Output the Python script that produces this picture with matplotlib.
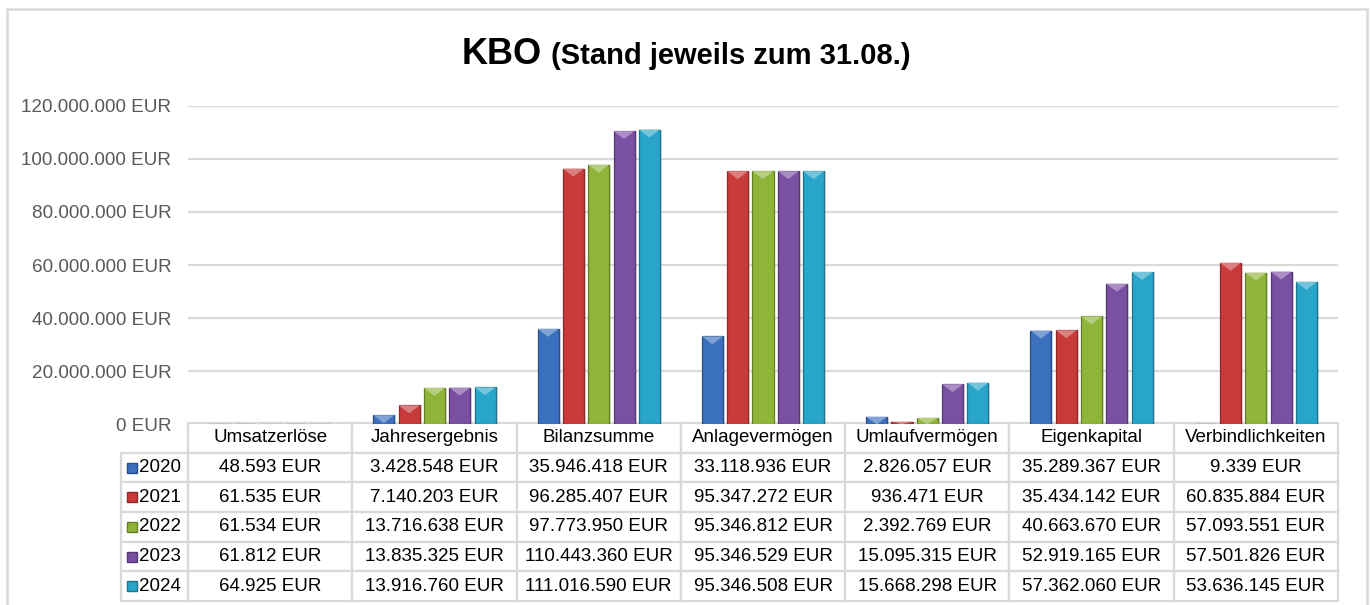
import matplotlib
matplotlib.use('Agg')
import matplotlib.pyplot as plt
from matplotlib.patches import Rectangle
from matplotlib.ticker import FuncFormatter
import matplotlib.colors as mcolors

plt.rcParams['font.family'] = ['Liberation Sans', 'DejaVu Sans']

# data
categories = ['Umsatzerlöse', 'Jahresergebnis', 'Bilanzsumme', 'Anlagevermögen',
              'Umlaufvermögen', 'Eigenkapital', 'Verbindlichkeiten']
years = ['2020', '2021', '2022', '2023', '2024']
v2020 = [48593, 3428548, 35946418, 33118936, 2826057, 35289367, 9339]
v2021 = [61535, 7140203, 96285407, 95347272, 936471, 35434142, 60835884]
v2022 = [61534, 13716638, 97773950, 95346812, 2392769, 40663670, 57093551]
v2023 = [61812, 13835325, 110443360, 95346529, 15095315, 52919165, 57501826]
v2024 = [64925, 13916760, 111016590, 95346508, 15668298, 57362060, 53636145]
series = [v2020, v2021, v2022, v2023, v2024]
colors = ['#3b70bf', '#c93a3a', '#8fb43a', '#7a50a2', '#29a5c9']

def eur(v, pos=None):
    return f"{int(v):,}".replace(',', '.') + ' EUR'

W, H = 1370, 605
fig = plt.figure(figsize=(W / 100, H / 100), dpi=100)

# axes placement (pixels)
ax_l, ax_r, ax_t, ax_b = 188, 1338, 105.7, 424.3
ax = fig.add_axes([ax_l / W, 1 - ax_b / H, (ax_r - ax_l) / W, (ax_b - ax_t) / H])

# outer frame
fig.patches.append(Rectangle((7 / W, -0.01), (1367 - 7) / W, 1.01 - 9 / H,
                             transform=fig.transFigure, fill=False,
                             edgecolor='#d9d9d9', linewidth=1.8))

ymax = 120000000
pitch = 0.154
bw = 0.128
tri_h = 3.0e6
for j, (vals, c) in enumerate(zip(series, colors)):
    xs = [i + 0.5 + (j - 2) * pitch for i in range(len(categories))]
    dark = [x * 0.7 for x in mcolors.to_rgb(c)]
    light = [x + (1 - x) * 0.35 for x in mcolors.to_rgb(c)]
    # soft shadow to the right
    ax.bar([x + 0.012 for x in xs], vals, width=bw, color='#000000', alpha=0.12,
           linewidth=0, zorder=2)
    ax.bar(xs, vals, width=bw, color=c, edgecolor=dark, linewidth=0.9, zorder=3)
    for x, v in zip(xs, vals):
        h = min(tri_h, v)
        ax.fill([x - bw / 2, x + bw / 2, x], [v, v, v - h], color=light,
                zorder=4, linewidth=0)

ax.set_xlim(0, len(categories))
ax.set_ylim(0, ymax)
ax.set_yticks(range(0, ymax + 1, 20000000))
ax.yaxis.set_major_formatter(FuncFormatter(eur))
ax.tick_params(axis='y', length=0, pad=12, labelsize=13.6, labelcolor='#595959')
ax.set_xticks([])
ax.grid(axis='y', color='#d9d9d9', linewidth=1.6, zorder=0)
for s in ax.spines.values():
    s.set_visible(False)

# data table below
ax_h = ax_b - ax_t
tb_l, tb_r, tb_t, tb_b = 121, 1338, 423, 601
cell_text = [[''] + [eur(v) for v in vals] for vals in series]
col_w = [ax_l - tb_l] + [(ax_r - ax_l) / len(categories)] * len(categories)
tbl = ax.table(cellText=cell_text, colLabels=[''] + categories,
               colWidths=[w / (tb_r - tb_l) for w in col_w],
               cellLoc='center',
               bbox=[(tb_l - ax_l) / (ax_r - ax_l), -(tb_b - ax_b) / ax_h,
                     (tb_r - tb_l) / (ax_r - ax_l), (tb_b - tb_t) / ax_h])
tbl.auto_set_font_size(False)
tbl.set_fontsize(13.5)
for (r, c), cell in tbl.get_celld().items():
    cell.set_edgecolor('#d9d9d9')
    cell.set_linewidth(1.6)
    if r == 0 and c == 0:
        cell.set_visible(False)

# row labels with colour keys
row_h = (tb_b - tb_t) / (len(years) + 1)
for k, (yr, c) in enumerate(zip(years, colors)):
    yc = tb_t + row_h * (k + 1.5)
    ya = (ax_b - yc) / ax_h
    ax.plot([(132 - ax_l) / (ax_r - ax_l)], [ya], marker='s', markersize=7.2,
            color=c, markeredgecolor=[x * 0.7 for x in mcolors.to_rgb(c)],
            transform=ax.transAxes, clip_on=False, zorder=5)
    ax.text((139 - ax_l) / (ax_r - ax_l), ya, yr, transform=ax.transAxes,
            ha='left', va='center', fontsize=13.5, color='black')

# title
fig.text(462 / W, 1 - 64.5 / H, 'KBO', fontsize=26, fontweight='bold',
         va='baseline', ha='left')
fig.text(551 / W, 1 - 64.5 / H, '(Stand jeweils zum 31.08.)', fontsize=21,
         fontweight='bold', va='baseline', ha='left')

fig.savefig('out.png', dpi=100, facecolor='white')
